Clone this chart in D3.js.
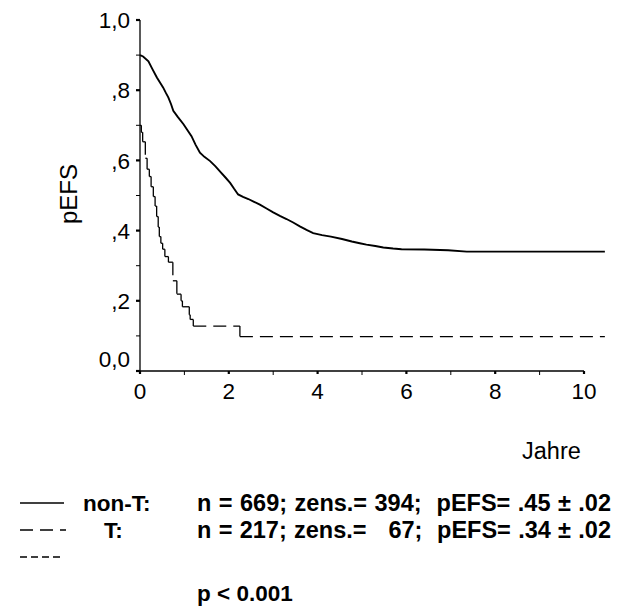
<!DOCTYPE html>
<html><head><meta charset="utf-8">
<script src="https://cdn.jsdelivr.net/npm/d3@7"></script>
<style>body{margin:0;background:#fff}text{font-family:"Liberation Sans",Arial,sans-serif}</style>
</head><body><svg id="c" width="617" height="615"></svg>
<script>
// ---- data ----
const nonT_time = [0,0.07,0.19,0.28,0.38,0.45,0.52,0.58,0.64,0.70,0.75,0.85,0.98,1.07,1.16,1.25,1.35,1.45,1.58,1.70,1.80,1.92,2.03,2.12,2.21,2.32,2.44,2.57,2.70,2.85,3.00,3.15,3.30,3.45,3.60,3.75,3.90,4.10,4.30,4.55,4.77,4.95,5.10,5.30,5.48,5.70,5.89,6.40,6.94,7.36,10.47];
const nonT_surv = [0.90,0.896,0.882,0.86,0.836,0.822,0.808,0.793,0.779,0.760,0.741,0.724,0.703,0.686,0.669,0.645,0.622,0.610,0.598,0.583,0.569,0.552,0.536,0.519,0.503,0.496,0.490,0.482,0.474,0.463,0.452,0.442,0.433,0.423,0.412,0.402,0.393,0.387,0.383,0.376,0.369,0.364,0.360,0.356,0.352,0.349,0.347,0.346,0.344,0.340,0.340];
const T_time = [0,0.03,0.06,0.12,0.16,0.21,0.25,0.30,0.34,0.375,0.41,0.435,0.47,0.51,0.56,0.64,0.74,0.83,0.925,0.955,1.11,1.13,1.20,2.25,10.47];
const T_surv = [0.70,0.68,0.653,0.606,0.575,0.554,0.525,0.497,0.47,0.44,0.41,0.383,0.364,0.347,0.326,0.31,0.257,0.219,0.20,0.183,0.16,0.147,0.128,0.098,0.098];
const yTicks = [0,0.2,0.4,0.6,0.8,1.0];
const yTickLabels = ["0,0",",2",",4",",6",",8","1,0"];
const yMinor = [0.1,0.3,0.5,0.7,0.9];
const xTicks = [0,2,4,6,8,10];
const xMinor = [1,3,5,7,9];
const legendNames = ["non-T:","T:"];
const legendStats = ["n = 669; zens.= 394;  pEFS= .45 \u00B1 .02","n = 217; zens.=   67;  pEFS= .34 \u00B1 .02"];
const pText = "p < 0.001";

// ---- chart ----
const svg = d3.select("#c");
const x = d3.scaleLinear().domain([0,10]).range([140,584]);
const y = d3.scaleLinear().domain([0,1]).range([371,20]);

// axes
const ax = svg.append("g").attr("stroke","#000");
ax.append("line").attr("x1",x(0)).attr("x2",x(0)).attr("y1",y(0)).attr("y2",y(1)).attr("stroke-width",1.3);
ax.append("line").attr("x1",x(0)).attr("x2",x(10)).attr("y1",y(0)).attr("y2",y(0)).attr("stroke-width",1.3);
ax.selectAll(".ym").data(yMinor).join("line").attr("x1",x(0)-4).attr("x2",x(0)).attr("y1",d=>y(d)).attr("y2",d=>y(d)).attr("stroke-width",1);
ax.selectAll(".yM").data(yTicks).join("line").attr("x1",x(0)-4).attr("x2",x(0)).attr("y1",d=>y(d)).attr("y2",d=>y(d)).attr("stroke-width",2.2);
ax.selectAll(".xm").data(xMinor).join("line").attr("x1",d=>x(d)).attr("x2",d=>x(d)).attr("y1",y(0)).attr("y2",y(0)+4).attr("stroke-width",1);
ax.selectAll(".xM").data(xTicks).join("line").attr("x1",d=>x(d)).attr("x2",d=>x(d)).attr("y1",y(0)).attr("y2",y(0)+3).attr("stroke-width",2.2);

svg.selectAll(".yl").data(yTicks).join("text")
  .attr("x",130).attr("y",(d,i)=>y(d)+(d===0?-12:0)).attr("dy","0.36em")
  .attr("text-anchor","end").attr("font-size",22.5).text((d,i)=>yTickLabels[i]);
svg.selectAll(".xl").data(xTicks).join("text")
  .attr("x",d=>x(d)).attr("y",y(0)+28).attr("text-anchor","middle").attr("font-size",22.5).text(d=>d);

svg.append("text").attr("transform","translate(77,194) rotate(-90)").attr("text-anchor","middle").attr("font-size",24).text("pEFS");
svg.append("text").attr("x",522).attr("y",459).attr("font-size",23.5).text("Jahre");

// curves
const nonT = nonT_time.map((t,i)=>[t,nonT_surv[i]]);
const line = d3.line().x(d=>x(d[0])).y(d=>y(d[1])).curve(d3.curveLinear);
svg.append("path").attr("d",line(nonT)).attr("fill","none").attr("stroke","#000").attr("stroke-width",1.9);

// T curve: each step segment drawn separately so dash pattern restarts
const segs = [];
for(let i=0;i<T_time.length-1;i++){
  segs.push([[T_time[i],T_surv[i]],[T_time[i+1],T_surv[i]]]);
  if(T_surv[i+1]!==T_surv[i]) segs.push([[T_time[i+1],T_surv[i]],[T_time[i+1],T_surv[i+1]]]);
}
const segLine = d3.line().x(d=>x(d[0])).y(d=>y(d[1]));
svg.append("g").selectAll("path").data(segs).join("path")
  .attr("d",d=>segLine(d)).attr("fill","none").attr("stroke","#000").attr("stroke-width",1.3).attr("stroke-dasharray","13,7");

// legend
const lg = svg.append("g");
const rowY = [503,530];
lg.append("line").attr("x1",20).attr("x2",64).attr("y1",rowY[0]).attr("y2",rowY[0]).attr("stroke","#000").attr("stroke-width",1.3);
lg.append("line").attr("x1",20).attr("x2",66).attr("y1",rowY[1]).attr("y2",rowY[1]).attr("stroke","#000").attr("stroke-width",1.3).attr("stroke-dasharray","13,7");
lg.append("line").attr("x1",20).attr("x2",62).attr("y1",557).attr("y2",557).attr("stroke","#000").attr("stroke-width",1.3).attr("stroke-dasharray","7,4");
const nameX = [83,104];
const fs = 22.5;
legendNames.forEach((nm,i)=>{
  lg.append("text").attr("x",nameX[i]).attr("y",rowY[i]).attr("dy","0.36em").attr("font-size",fs).attr("font-weight","bold").text(nm);
  const t = lg.append("text").attr("x",197).attr("y",rowY[i]).attr("dy","0.36em").attr("font-size",23.5).attr("font-weight","bold")
    .attr("xml:space","preserve").style("white-space","pre").text(legendStats[i]);
  const w = t.node().getComputedTextLength();
  const nSp = (legendStats[i].match(/ /g)||[]).length;
  const extra = (414 - w) / nSp;
  if(extra>0) t.style("word-spacing", extra + "px");
});
lg.append("text").attr("x",197).attr("y",593).attr("dy","0.36em").attr("font-size",fs).attr("font-weight","bold").text(pText);
</script></body></html>
